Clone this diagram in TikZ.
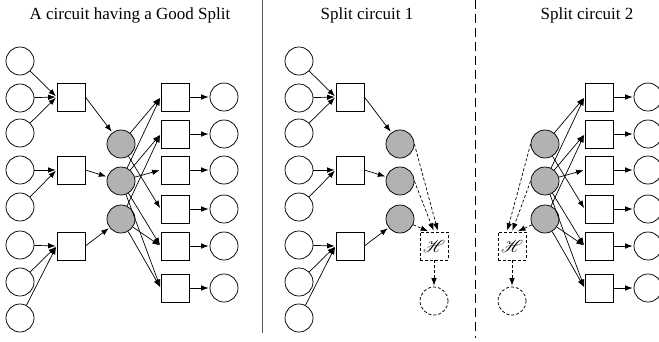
\documentclass[tikz,border=0pt]{standalone}
\usepackage{fontspec}
\setmainfont{Liberation Serif}
\usepackage{mathrsfs}
\usetikzlibrary{arrows.meta}
\definecolor{wiregray}{RGB}{178,178,178}
\definecolor{rulegray}{RGB}{90,90,90}

\begin{document}
\begin{tikzpicture}[x=1pt,y=-1pt,
  every node/.style={line width=0.75pt},
  incirc/.style={circle,draw,minimum size=28pt,inner sep=0pt},
  gatebox/.style={rectangle,draw,minimum size=28pt,inner sep=0pt},
  midcirc/.style={circle,draw,fill=wiregray,minimum size=28pt,inner sep=0pt},
  hbox/.style={rectangle,draw,dash pattern=on 3pt off 2pt,minimum size=28pt,inner sep=0pt,
    font=\fontsize{17}{18}\selectfont},
  hout/.style={circle,draw,dash pattern=on 3pt off 2pt,minimum size=28pt,inner sep=0pt},
  conn/.style={-{Latex[length=7.5pt,width=5.5pt]},line width=0.7pt,shorten >=1pt},
  hconn/.style={conn,dash pattern=on 3pt off 2pt},
  title/.style={font=\fontsize{17}{19}\selectfont,inner sep=0pt}
]
\useasboundingbox (0,0) rectangle (659,341);

% titles
\node[title] (t1) at (130,15) {A circuit having a Good Split};
\node[title] (t2) at (367,15) {Split circuit 1};
\node[title] (t3) at (587,15) {Split circuit 2};

% panel separators
\coordinate (sa) at (262,0);
\coordinate (sb) at (262,333);
\draw[rulegray,line width=0.9pt] (sa) -- (sb);
\coordinate (da) at (475,0);
\coordinate (db) at (475,338);
\draw[line width=0.9pt,dash pattern=on 9pt off 5pt] (da) -- (db);

% middle wires of the split circuit 2
\foreach \k/\y in {1/144,2/181,3/219}
  \node[midcirc] (cm\k) at (545,\y) {};

% input half: inputs -> gates -> middle wires  (panels 1 and 2)
\foreach \p/\dx in {a/0,b/279}{
  \foreach \k/\y in {1/61,2/98,3/133,4/170,5/207,6/245,7/282,8/318}
    \node[incirc] (\p i\k) at (20+\dx,\y) {};
  \foreach \k/\y in {1/97,2/170,3/246}
    \node[gatebox] (\p g\k) at (71+\dx,\y) {};
  \foreach \k/\y in {1/144,2/181,3/219}
    \node[midcirc] (\p m\k) at (121+\dx,\y) {};
  \foreach \i/\g in {1/1,2/1,3/1,4/2,5/2,6/3,7/3,8/3}
    \draw[conn] (\p i\i) -- (\p g\g.west);
  \foreach \k in {1,2,3}
    \draw[conn] (\p g\k.east) -- (\p m\k);
}

% output half: middle wires -> gates -> outputs  (panels 1 and 3)
\foreach \p/\dx in {a/0,c/424}{
  \foreach \k/\y in {1/97,2/134,3/170,4/209,5/246,6/288}{
    \node[gatebox] (\p r\k) at (175+\dx,\y) {};
    \node[incirc] (\p o\k) at (224+\dx,\y) {};
    \draw[conn] (\p r\k.east) -- (\p o\k);
  }
  \foreach \m/\r in {1/1,1/4,2/1,2/2,2/3,2/5,2/6,3/2,3/5,3/6}
    \draw[conn] (\p m\m) -- (\p r\r.west);
}

% split circuit 1: cut wires feed the hidden part
\node[hbox] (bh) at (434,246) {$\mathscr{H}$};
\node[hout] (bo) at (434,301) {};
\draw[hconn] (bm1.east) -- ([xshift=4pt]bh.north);
\draw[hconn] (bm2.east) -- ([xshift=0pt]bh.north);
\draw[hconn] (bm3) -- ([xshift=-5pt]bh.north);
\draw[hconn] (bh) -- (bo);

% split circuit 2: cut wires feed the hidden part
\node[hbox] (ch) at (512,246) {$\mathscr{H}$};
\node[hout] (co) at (512,301) {};
\draw[hconn] (cm1.west) -- ([xshift=-5pt]ch.north);
\draw[hconn] (cm2.west) -- ([xshift=0pt]ch.north);
\draw[hconn] (cm3) -- ([xshift=5pt]ch.north);
\draw[hconn] (ch) -- (co);
\end{tikzpicture}
\end{document}
